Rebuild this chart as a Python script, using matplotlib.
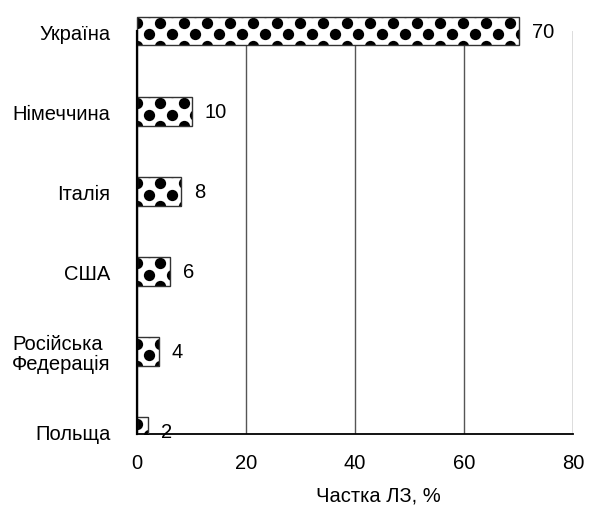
import matplotlib.pyplot as plt
import numpy as np
from matplotlib.transforms import Bbox, TransformedBbox

plt.rcParams["font.family"] = ["Liberation Sans", "DejaVu Sans"]

# data (bottom to top)
countries = ["Польща", "Російська\nФедерація", "США", "Італія", "Німеччина", "Україна"]
shares = [2, 4, 6, 8, 10, 70]

fig = plt.figure(figsize=(5.89, 5.06), dpi=100)
ax = fig.add_axes([137 / 589, 1 - 435 / 506, 436 / 589, 403 / 506])

ypos = np.arange(len(countries))
h = 0.36
ylo, yhi = -0.03, 4.975
fs = 14.5

bars = ax.barh(ypos, shares, height=h, color="white", edgecolor="none", zorder=2)
for b in bars:
    if b.get_y() + h > yhi:
        b.set_clip_on(False)

# dotted fill pattern
col_step = 4.275   # data units between dots in one row
row_step = 0.1429
for y, v, b in zip(ypos, shares, bars):
    xs_all, ys_all = [], []
    for k in range(-2, 3):
        ry = y - 0.0435 + k * row_step
        start = col_step / 2 if k % 2 == 0 else 0.0
        xs = np.arange(start, v + col_step, col_step)
        xs_all.extend(xs)
        ys_all.extend([ry] * len(xs))
    sc = ax.scatter(xs_all, ys_all, s=66, color="black", linewidths=0, zorder=2.5)
    lo = max(y - h / 2, ylo)
    sc.set_clip_box(TransformedBbox(Bbox([[0, lo], [v, y + h / 2]]), ax.transData))

# outlines on top of the dots
outl = ax.barh(ypos, shares, height=h, fill=False, edgecolor="#333333", linewidth=1.0, zorder=3)
for o in outl:
    if o.get_y() + h > yhi:
        o.set_clip_on(False)

for y, v in zip(ypos, shares):
    ax.annotate(str(v), xy=(v, y), xytext=(9.5, 0), textcoords="offset points",
                ha="left", va="center", fontsize=fs, annotation_clip=False)

ax.set_xlim(0, 80)
ax.set_ylim(ylo, yhi)
ax.set_xticks([0, 20, 40, 60, 80])
ax.set_yticks(ypos)
ax.set_yticklabels(countries, fontsize=fs, linespacing=1.0, multialignment="left")
ax.tick_params(axis="x", length=0, pad=14, labelsize=fs)
ax.tick_params(axis="y", length=0, pad=19)

ax.xaxis.grid(True, color="#555555", linewidth=1.0)
ax.set_axisbelow(True)

for s in ["top", "right"]:
    ax.spines[s].set_visible(False)
ax.spines["left"].set_linewidth(1.6)
ax.spines["bottom"].set_linewidth(1.3)
ax.spines["left"].set_zorder(4)

ax.set_xlabel("Частка ЛЗ, %", fontsize=fs)
ax.xaxis.set_label_coords(0.553, -0.128)

fig.savefig("out.png", dpi=100)
